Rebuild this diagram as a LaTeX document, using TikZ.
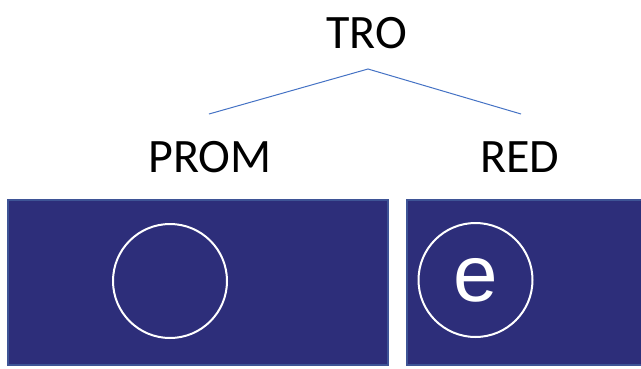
\documentclass[tikz,border=0pt]{standalone}
\usepackage{fontspec}
\setmainfont{Carlito}
\newfontfamily\arialfont{Liberation Sans}
\usetikzlibrary{positioning,calc}
\definecolor{slotc}{RGB}{45,46,122}
\definecolor{slotedge}{RGB}{62,84,150}
\definecolor{branchc}{RGB}{68,114,196}
\tikzset{
  word/.style   = {anchor=base, inner sep=0pt, font=\fontsize{48}{52}\selectfont},
  slot/.style   = {draw=slotedge, line width=1.5pt, fill=slotc},
  ring/.style   = {draw=white, line width=2pt, circle, minimum size=114pt,
                   inner sep=0pt, text=white,
                   font=\arialfont\fontsize{80}{80}\selectfont},
  branch/.style = {draw=branchc, line width=1pt},
}

\begin{document}
\begin{tikzpicture}[x=1pt,y=-1pt]
\useasboundingbox (0,0) rectangle (641,368);

\node[word] (tro) at (367,48) {TRO};
\node[word] (prom) at (210,172) {PROM};
\node[word] (red) at (520,172) {RED};

\coordinate (fork) at ($(tro.base)+(1,21)$);
\coordinate (lft) at ($(prom.base)+(-1,-58)$);
\coordinate (rgt) at ($(red.base)+(1,-58)$);
\draw[branch] (lft) -- (fork) -- (rgt);

\draw[slot] (8,200) rectangle (388,365);
\draw[slot] (407,200) rectangle (645,365);

\node[ring] (empty) at (170,281) {};
\node[ring] (filled) at (475.5,280) {e};

\end{tikzpicture}
\end{document}
